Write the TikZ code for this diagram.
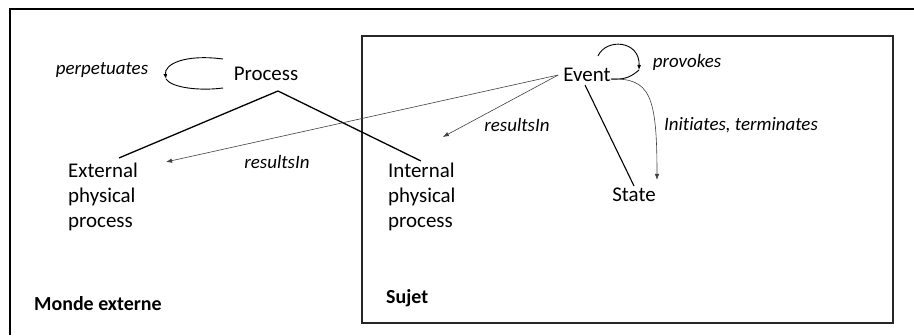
\documentclass[tikz,border=0pt]{standalone}
\usepackage{fontspec}
\setmainfont{Carlito}[Ligatures=NoCommon]
\usepackage{tikz}
\usetikzlibrary{arrows.meta,positioning,calc}

\tikzset{
    concept/.style={inner sep=2bp, font=\fontsize{21}{25}\selectfont, align=left},
    relname/.style={inner sep=1bp, font=\fontsize{19}{22}\selectfont\itshape},
    zonename/.style={inner sep=1bp, font=\fontsize{20}{24}\selectfont\bfseries, anchor=west},
    isa/.style={line width=1.3bp},
    rel/.style={line width=0.6bp, draw=black!75, -{Latex[length=6bp,width=4.5bp]}},
    loop/.style={line width=0.9bp}
}

\begin{document}
\begin{tikzpicture}[x=1bp, y=-1bp]
    \useasboundingbox (0,0) rectangle (914,335);

    % Outer world and subject frames
    \draw [line width=1.1bp] (10,335) -- (10,9) -- (914,9);
    \draw [line width=1.1bp, draw=black!85] (362,36) rectangle (893,323);

    % Concepts
    \node [concept] (proc) at (266,74) {Process};
    \node [concept, anchor=west] (ext) at (66,197) {External\\physical\\process};
    \node [concept, anchor=west] (int) at (386,197) {Internal\\physical\\process};
    \node [concept] (evt) at (587,75) {Event};
    \node [concept] (state) at (634,195) {State};

    % Zone names
    \node [zonename] (monde) at (33,304) {Monde externe};
    \node [zonename] (sujet) at (385,298) {Sujet};

    % Hierarchy lines
    \coordinate (procfoot) at (278,91);
    \draw [isa] (procfoot) -- ($(ext.north)+(16,-3)$);
    \draw [isa] (procfoot) -- ($(int.north)+(-1,0)$);
    \draw [line width=1.1bp] ($(evt.south)+(-2,1)$) -- (state.north);

    % perpetuates loop
    \coordinate (pA) at (223,59);
    \coordinate (pB) at (166,79);
    \coordinate (pC) at (223,88);
    \draw [loop, -{Latex[length=5bp,width=4bp]}] (pA) .. controls (185,54) and (164,64) .. (pB);
    \draw [loop] (pB) .. controls (172,88) and (200,91) .. (pC);
    \node [relname] (perp) at (102,70) {perpetuates};

    % provokes loop
    \coordinate (vA) at (598,56);
    \coordinate (vB) at (639,70);
    \draw [loop, -{Latex[length=5bp,width=4bp]}] (vA) .. controls (606,38) and (640,40) .. (vB);
    \draw [loop] ($(evt.east)+(-2,4)$) .. controls (626,80) and (632,76) .. (vB);
    \node [relname] (prov) at (687,62) {provokes};

    % resultsIn arrows
    \draw [rel] ($(evt.west)+(-3,0)$) -- ($(ext.north)+(63,1)$);
    \node [relname] (res1) at (277,162) {resultsIn};
    \draw [rel] ($(evt.west)+(-3,0)$) -- ($(int.north)+(21,-24)$);
    \node [relname] (res2) at (517,125) {resultsIn};

    % initiates / terminates
    \draw [rel] ($(evt.east)+(-2,4)$) .. controls (650,78) and (657,95) .. ($(state.north)+(23,-6)$);
    \node [relname] (init) at (741,125) {Initiates, terminates};
\end{tikzpicture}
\end{document}
